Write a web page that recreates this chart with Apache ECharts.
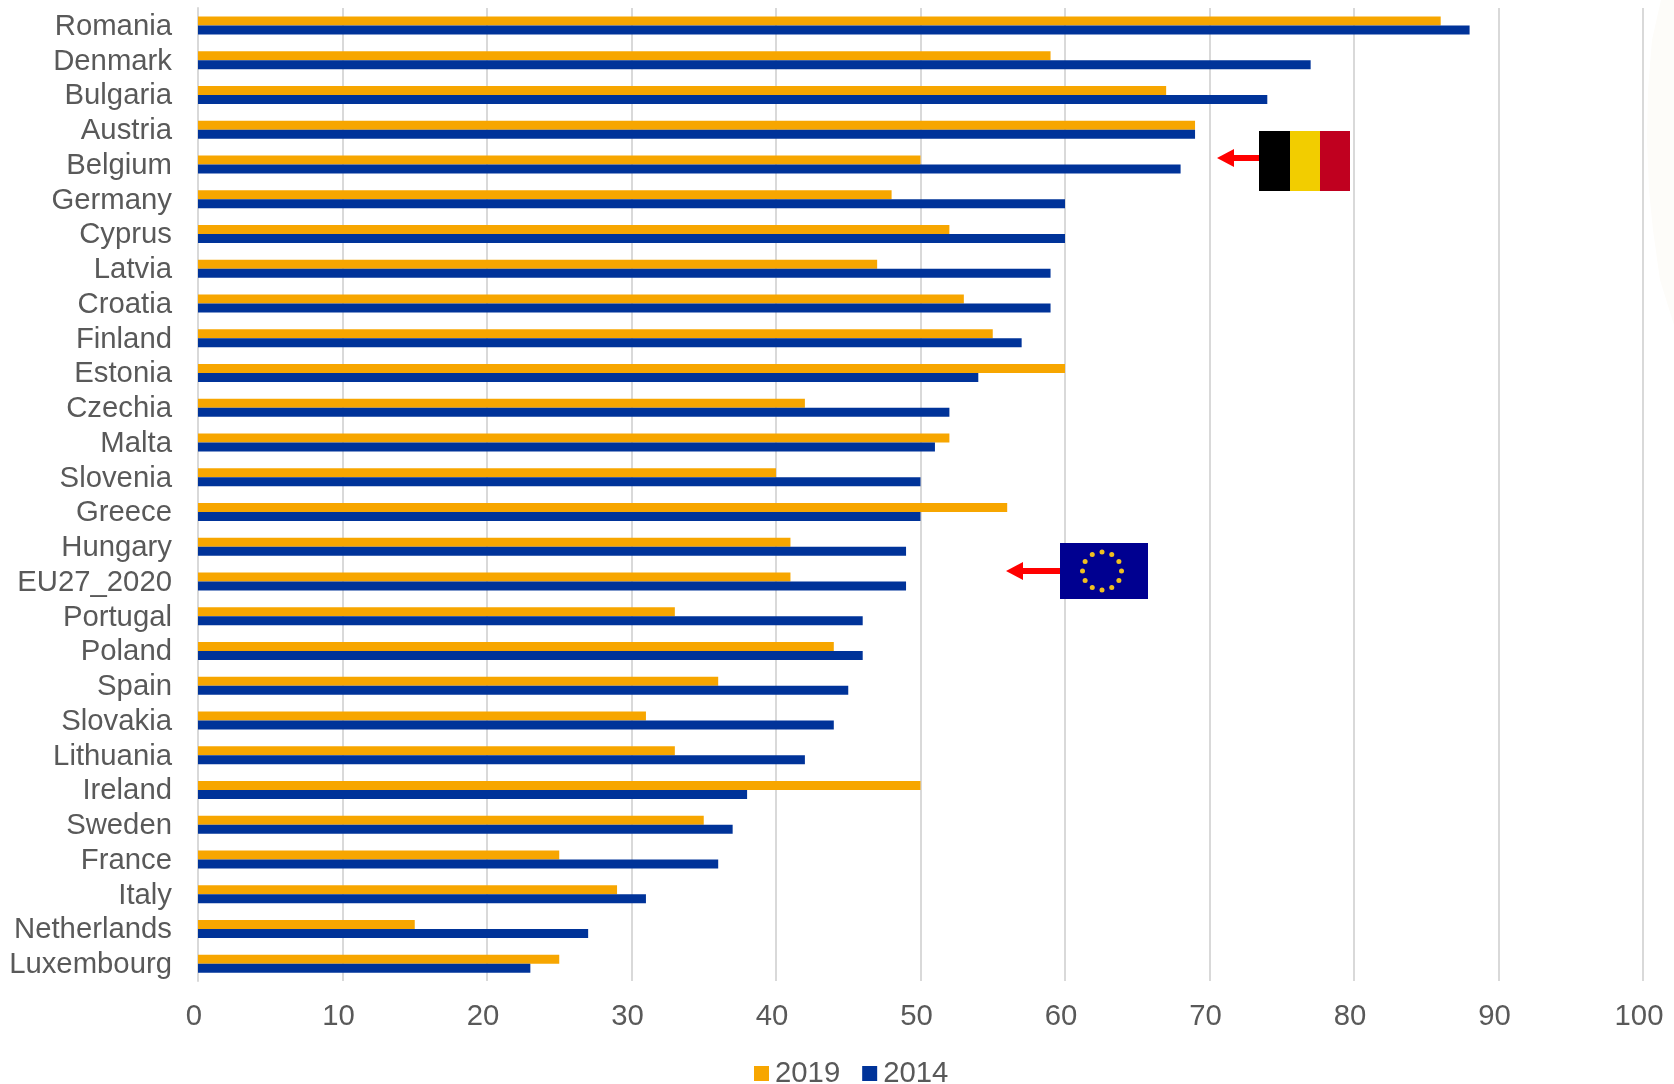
<!DOCTYPE html>
<html>

<head>
  <meta charset="utf-8">
  <title></title>
  <script src="https://cdn.jsdelivr.net/npm/echarts@6/dist/echarts.min.js" charset="utf-8"></script>
  <style media="screen">
    html, body {
      margin: 0;
      padding: 0;
      background: #fff;
    }
  </style>
</head>

<body>
  <div id="main" style="width:1674px;height:1084px;"></div>

  <script type="text/javascript">
    var countries = ['Romania', 'Denmark', 'Bulgaria', 'Austria', 'Belgium', 'Germany', 'Cyprus', 'Latvia', 'Croatia', 'Finland', 'Estonia', 'Czechia', 'Malta', 'Slovenia', 'Greece', 'Hungary', 'EU27_2020', 'Portugal', 'Poland', 'Spain', 'Slovakia', 'Lithuania', 'Ireland', 'Sweden', 'France', 'Italy', 'Netherlands', 'Luxembourg'];
    var values2019 = [86, 59, 67, 69, 50, 48, 52, 47, 53, 55, 60, 42, 52, 40, 56, 41, 41, 33, 44, 36, 31, 33, 50, 35, 25, 29, 15, 25];
    var values2014 = [88, 77, 74, 69, 68, 60, 60, 59, 59, 57, 54, 52, 51, 50, 50, 49, 49, 46, 46, 45, 44, 42, 38, 37, 36, 31, 27, 23];

    var font = 'Liberation Sans';
    var fontSize = 29.3;
    var textColor = '#595959';

    var myChart = echarts.init(document.getElementById('main'));

    // flags and arrows are pasted pictures in the original, redrawn by hand here
    function arrow(tipX, baseX, y) {
      return [{
        type: 'polygon',
        z: 10,
        shape: { points: [[tipX, y], [tipX + 17, y - 9], [tipX + 17, y + 9]] },
        style: { fill: '#ff0000' }
      }, {
        type: 'rect',
        z: 10,
        shape: { x: tipX + 16, y: y - 3, width: baseX - tipX - 16, height: 6 },
        style: { fill: '#ff0000' }
      }];
    }

    var graphics = [].concat(arrow(1217, 1260, 158), arrow(1006, 1061, 571));

    graphics.push(
      { type: 'rect', z: 10, shape: { x: 1259, y: 131, width: 31, height: 60 }, style: { fill: '#000000' } },
      { type: 'rect', z: 10, shape: { x: 1290, y: 131, width: 30, height: 60 }, style: { fill: '#f2cd00' } },
      { type: 'rect', z: 10, shape: { x: 1320, y: 131, width: 30, height: 60 }, style: { fill: '#c0001f' } },
      { type: 'rect', z: 10, shape: { x: 1060, y: 543, width: 88, height: 56 }, style: { fill: '#000090' } },
      // faint cream shape at the right edge
      {
        type: 'polygon',
        z: -1,
        shape: { points: [[1661, 0], [1652, 40], [1648, 90], [1647, 140], [1649, 190], [1653, 230], [1660, 280], [1674, 325], [1674, 0]] },
        style: { fill: '#fdfcf9' }
      }
    );

    for (var i = 0; i < 12; i++) {
      var a = i * Math.PI / 6;
      graphics.push({
        type: 'circle',
        z: 11,
        shape: { cx: 1102 + 19.5 * Math.sin(a), cy: 571 - 19 * Math.cos(a), r: 2.5 },
        style: { fill: '#f0c020' }
      });
    }

    var option = {
      animation: false,
      textStyle: { fontFamily: font },
      grid: { left: 198, right: 31, top: 8, height: 973, containLabel: false },
      legend: {
        left: 749,
        top: 1054,
        itemWidth: 15,
        itemHeight: 15,
        itemGap: 22,
        icon: 'rect',
        data: ['2019', '2014'],
        textStyle: { fontFamily: font, fontSize: fontSize, color: textColor, padding: [0, 0, 0, 1] }
      },
      xAxis: {
        type: 'value',
        min: 0,
        max: 100,
        interval: 10,
        axisLine: { show: false },
        axisTick: { show: false },
        splitLine: { lineStyle: { color: '#d9d9d9', width: 2 } },
        axisLabel: { fontFamily: font, fontSize: fontSize, color: textColor, margin: 21, padding: [0, 8, 0, 0] }
      },
      yAxis: {
        type: 'category',
        inverse: true,
        data: countries,
        axisLine: { show: true, lineStyle: { color: '#d9d9d9', width: 2 } },
        axisTick: { show: false },
        axisLabel: {
          margin: 26,
          interval: 0,
          formatter: '{name|{value}}',
          rich: {
            // the top padding nudges the names down a little from the band centre
            name: { fontFamily: font, fontSize: fontSize, color: textColor, padding: [3, 0, 0, 0] }
          }
        }
      },
      series: [{
        name: '2019',
        type: 'bar',
        data: values2019,
        barWidth: 9,
        barGap: 0,
        itemStyle: { color: '#f7a600' }
      }, {
        name: '2014',
        type: 'bar',
        data: values2014,
        barWidth: 9,
        itemStyle: { color: '#003399' }
      }],
      graphic: { elements: graphics }
    };
    myChart.setOption(option);
  </script>
</body>

</html>
